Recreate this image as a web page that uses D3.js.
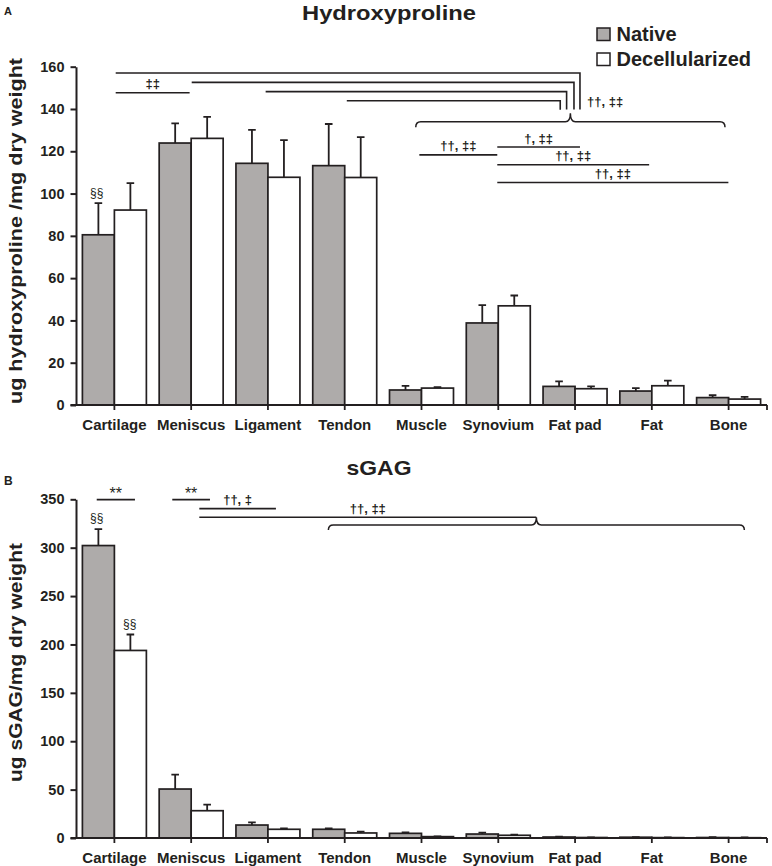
<!DOCTYPE html>
<html>
<head>
<meta charset="utf-8">
<script src="https://cdn.jsdelivr.net/npm/d3@7/dist/d3.min.js"></script>
<style>
  html, body { margin: 0; padding: 0; background: #fff; }
  svg text { font-family: Arial, "Liberation Sans", sans-serif; fill: #231f20; }
</style>
</head>
<body>
<svg id="chart" width="772" height="866"></svg>
<script>
// ---------------- data ----------------
const categories = ["Cartilage", "Meniscus", "Ligament", "Tendon", "Muscle", "Synovium", "Fat pad", "Fat", "Bone"];
const series = ["Native", "Decellularized"];

const hypNative     = [80.5, 123.9, 114.3, 113.2, 7.1, 38.8, 8.8, 6.6, 3.5];
const hypNativeErr  = [15.0, 9.3, 15.8, 19.7, 1.9, 8.4, 2.4, 1.4, 1.1];
const hypDecell     = [92.2, 126.1, 107.7, 107.6, 8.0, 46.9, 7.7, 9.1, 2.8];
const hypDecellErr  = [12.7, 10.2, 17.6, 19.1, 0.5, 4.9, 1.1, 2.4, 1.0];

const gagNative     = [302.2, 50.6, 13.4, 9.0, 4.8, 4.1, 1.0, 0.8, 0.5];
const gagNativeErr  = [17.0, 14.8, 2.8, 1.0, 1.0, 1.4, 0.3, 0.2, 0.3];
const gagDecell     = [193.8, 28.2, 9.0, 5.2, 1.4, 2.8, 0.5, 0.4, 0.3];
const gagDecellErr  = [16.5, 6.2, 1.0, 1.3, 0.3, 0.7, 0.2, 0.3, 0.2];

const hypTicks = [0, 20, 40, 60, 80, 100, 120, 140, 160];
const gagTicks = [0, 50, 100, 150, 200, 250, 300, 350];

// significance annotations: positions as [category, fraction of band], levels in data units
const hypBrackets = [
  { from: ["Cartilage", 0.517], to: ["Fat pad", 0.564], level: 157.0, drop: 139.8 },
  { from: ["Meniscus", 0.507],  to: ["Fat pad", 0.486], level: 152.6, drop: 139.8 },
  { from: ["Ligament", 0.47],   to: ["Fat pad", 0.39],  level: 148.2, drop: 139.8 },
  { from: ["Tendon", 0.527],    to: ["Fat pad", 0.307], level: 143.9, drop: 139.6 }
];
const hypLines = [
  { from: ["Cartilage", 0.517], to: ["Meniscus", 0.48], level: 147.7, label: "‡‡" },
  { from: ["Muscle", 0.472],    to: ["Synovium", 0.487], level: 118.3, label: "††, ‡‡" },
  { from: ["Synovium", 0.487],  to: ["Fat pad", 0.564], level: 122.0, label: "†, ‡‡" },
  { from: ["Synovium", 0.487],  to: ["Fat", 0.465],     level: 113.6, label: "††, ‡‡" },
  { from: ["Synovium", 0.487],  to: ["Bone", 0.497],    level: 105.2, label: "††, ‡‡" }
];
const hypBrace = { from: ["Muscle", 0.425], to: ["Bone", 0.453], level: 134.0, tip: 131.4, cusp: 138.0 };
const hypSideLabel = { at: ["Fat pad", 0.657], level: 141.2, label: "††, ‡‡" };
const hypMarks = [ { at: ["Cartilage", 0.27], level: 98.5, label: "§§" } ];

const gagLines = [
  { from: ["Cartilage", 0.27], to: ["Cartilage", 0.768], level: 349.7, label: "**" },
  { from: ["Meniscus", 0.254], to: ["Meniscus", 0.745],  level: 349.7, label: "**" },
  { from: ["Meniscus", 0.606], to: ["Ligament", 0.604],  level: 340.4, label: "††, ‡" },
  { from: ["Meniscus", 0.606], to: ["Fat pad", -0.005],  level: 331.4, label: "††, ‡‡" }
];
const gagBrace = { from: ["Tendon", 0.287], to: ["Bone", 0.705], level: 323.4, tip: 318.2, cusp: 331.4 };
const gagMarks = [
  { at: ["Cartilage", 0.27], level: 326.5, label: "§§" },
  { at: ["Cartilage", 0.70], level: 216.5, label: "§§" }
];

// ---------------- drawing ----------------
const ink = "#231f20";
const gray = "#aeabaa";
const svg = d3.select("#chart");

const x = d3.scaleBand().domain(categories).range([76, 767]).paddingInner(0).paddingOuter(0);
const x1 = d3.scaleBand().domain(series).range([0, x.bandwidth()]).paddingInner(0).paddingOuter(0.2);
const color = d3.scaleOrdinal().domain(series).range([gray, "#ffffff"]);
const px = ([c, f]) => x(c) + f * x.bandwidth();

function panel(cfg) {
  const y = d3.scaleLinear().domain([0, d3.max(cfg.ticks)]).range(cfg.yRange);
  const g = svg.append("g");

  // y axis
  const ya = g.append("g").attr("transform", `translate(${x.range()[0]},0)`)
    .call(d3.axisLeft(y).tickValues(cfg.ticks).tickSize(5.5).tickSizeOuter(0).tickPadding(6));
  ya.select(".domain").attr("stroke", ink).attr("stroke-width", 2);
  ya.selectAll(".tick line").attr("stroke", ink).attr("stroke-width", 2);
  ya.selectAll(".tick text").attr("fill", ink).style("font-size", "14.5px").style("font-weight", "bold")
    .style("font-family", "Arial, 'Liberation Sans', sans-serif");

  // bars
  const rows = categories.map((c, i) => ({ c, vals: [
    { s: series[0], v: cfg.native[i], e: cfg.nativeErr[i] },
    { s: series[1], v: cfg.decell[i], e: cfg.decellErr[i] } ] }));
  const grp = g.selectAll("g.cat").data(rows).join("g").attr("class", "cat")
    .attr("transform", d => `translate(${x(d.c)},0)`);
  grp.selectAll("rect").data(d => d.vals).join("rect")
    .attr("x", d => x1(d.s)).attr("width", x1.bandwidth())
    .attr("y", d => y(d.v)).attr("height", d => y(0) - y(d.v))
    .attr("fill", d => color(d.s)).attr("stroke", ink).attr("stroke-width", 1.7);
  grp.selectAll("path.err").data(d => d.vals).join("path").attr("class", "err")
    .attr("d", d => {
      const cx = x1(d.s) + x1.bandwidth() / 2;
      return `M${cx},${y(d.v)}V${y(d.v + d.e)}M${cx - 3.8},${y(d.v + d.e)}H${cx + 3.8}`;
    })
    .attr("fill", "none").attr("stroke", ink).attr("stroke-width", 1.8);

  // x axis
  const xa = g.append("g").attr("transform", `translate(0,${y(0)})`)
    .call(d3.axisBottom(x).tickSize(5).tickSizeOuter(0).tickPadding(9));
  xa.select(".domain").attr("d", `M70.5,0H${x.range()[1]}`).attr("stroke", ink).attr("stroke-width", 2);
  xa.selectAll(".tick line").attr("stroke", ink).attr("stroke-width", 1.8);
  xa.selectAll(".tick text").attr("fill", ink).style("font-size", "15px").style("font-weight", "bold")
    .style("font-family", "Arial, 'Liberation Sans', sans-serif");
  xa.append("line").attr("x1", x.range()[1]).attr("x2", x.range()[1]).attr("y1", 0).attr("y2", 5)
    .attr("stroke", ink).attr("stroke-width", 1.8);

  // titles
  g.append("text").attr("x", cfg.titleX).attr("y", cfg.titleY).attr("text-anchor", "middle")
    .attr("textLength", cfg.titleLen).attr("lengthAdjust", "spacingAndGlyphs")
    .style("font-size", "21px").style("font-weight", "bold").text(cfg.title);
  g.append("text").attr("x", 4).attr("y", cfg.letterY)
    .style("font-size", cfg.letterSize).style("font-weight", "bold").text(cfg.letter);
  g.append("text").attr("transform", `translate(21.5,${cfg.ylabCY}) rotate(-90)`)
    .attr("text-anchor", "middle").attr("textLength", cfg.ylabLen).attr("lengthAdjust", "spacingAndGlyphs")
    .style("font-size", "17.5px").style("font-weight", "bold").text(cfg.ylab);

  // annotations
  const ann = g.append("g").attr("fill", "none").attr("stroke", ink).attr("stroke-width", 1.6);
  (cfg.brackets || []).forEach(b => {
    ann.append("path").attr("d", `M${px(b.from)},${y(b.level)}H${px(b.to)}V${y(b.drop)}`);
  });
  cfg.lines.forEach(l => {
    ann.append("path").attr("d", `M${px(l.from)},${y(l.level)}H${px(l.to)}`);
    const star = l.label === "**";
    g.append("text").attr("x", (px(l.from) + px(l.to)) / 2).attr("y", y(l.level) - (star ? 0.5 : 4.5))
      .attr("text-anchor", "middle").style("font-size", star ? "16px" : "13px")
      .style("font-weight", star ? "normal" : "bold").text(l.label);
  });
  const b = cfg.brace;
  const x0 = px(b.from), x2 = px(b.to), cx = (x0 + x2) / 2, r = 5;
  const yh = y(b.level), yt = y(b.tip), yc = y(b.cusp);
  const p = d3.path();
  p.moveTo(x0, yt); p.quadraticCurveTo(x0, yh, x0 + r, yh); p.lineTo(cx - r, yh);
  p.quadraticCurveTo(cx, yh, cx, yc); p.quadraticCurveTo(cx, yh, cx + r, yh);
  p.lineTo(x2 - r, yh); p.quadraticCurveTo(x2, yh, x2, yt);
  ann.append("path").attr("d", p.toString()).attr("stroke-width", 1.5);
  if (cfg.side) {
    g.append("text").attr("x", px(cfg.side.at)).attr("y", y(cfg.side.level))
      .style("font-size", "13px").style("font-weight", "bold").text(cfg.side.label);
  }
  cfg.marks.forEach(m => {
    g.append("text").attr("x", px(m.at)).attr("y", y(m.level)).attr("text-anchor", "middle")
      .style("font-size", "12px").text(m.label);
  });

  // legend
  if (cfg.legend) {
    const lg = g.append("g");
    series.forEach((s, i) => {
      lg.append("rect").attr("x", 597).attr("y", 28 + i * 25).attr("width", 13).attr("height", 12.5)
        .attr("fill", color(s)).attr("stroke", ink).attr("stroke-width", 1.5);
      lg.append("text").attr("x", 616.5).attr("y", 40.6 + i * 25)
        .style("font-size", "20px").style("font-weight", "bold").text(s);
    });
  }
}

panel({
  ticks: hypTicks, yRange: [405, 66.7], native: hypNative, nativeErr: hypNativeErr,
  decell: hypDecell, decellErr: hypDecellErr, title: "Hydroxyproline", titleX: 389, titleY: 19.5, titleLen: 174,
  letter: "A", letterY: 14.5, letterSize: "11px",
  ylab: "ug hydroxyproline /mg dry weight", ylabCY: 231, ylabLen: 346,
  brackets: hypBrackets, lines: hypLines, brace: hypBrace, side: hypSideLabel, marks: hypMarks, legend: true
});
panel({
  ticks: gagTicks, yRange: [838, 499.3], native: gagNative, nativeErr: gagNativeErr,
  decell: gagDecell, decellErr: gagDecellErr, title: "sGAG", titleX: 379, titleY: 475, titleLen: 65,
  letter: "B", letterY: 485, letterSize: "12px",
  ylab: "ug sGAG/mg dry weight", ylabCY: 662.5, ylabLen: 239,
  lines: gagLines, brace: gagBrace, marks: gagMarks, legend: false
});
</script>
</body>
</html>
